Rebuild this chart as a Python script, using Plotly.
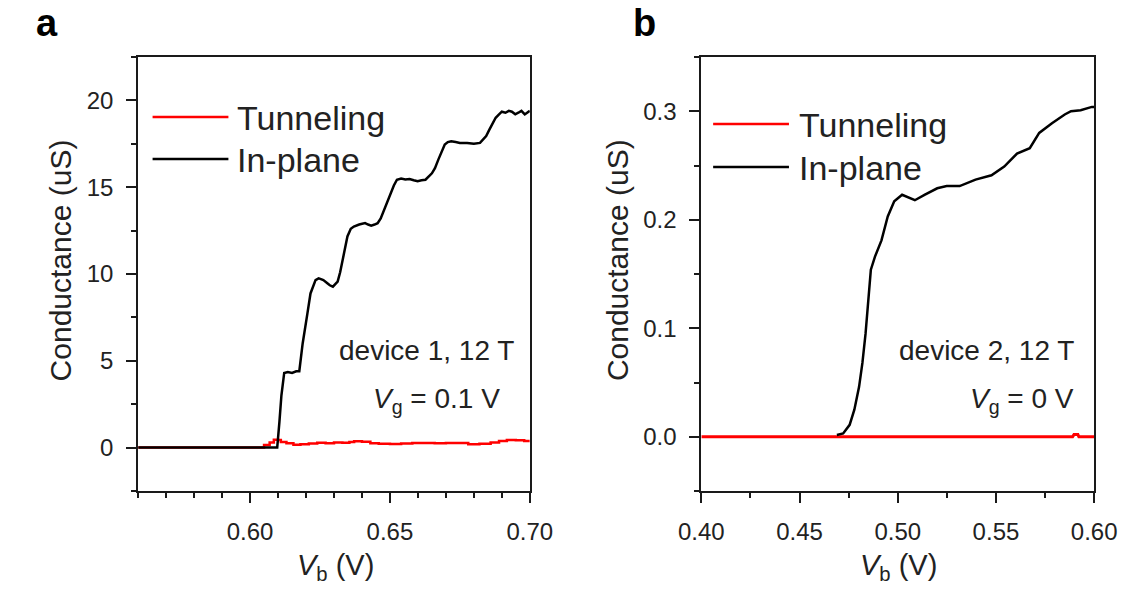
import plotly.graph_objects as go

W, H = 1146, 590

# ---------------- data ----------------
# Panel a: device 1, 12 T, Vg = 0.1 V
a_inplane_vb = [0.5600, 0.6097, 0.6105, 0.6112, 0.6122, 0.6135, 0.6150, 0.6165, 0.6176,
                0.6188, 0.6205, 0.6216, 0.6234, 0.6245, 0.6251, 0.6262, 0.6274, 0.6285,
                0.6296, 0.6313, 0.6322, 0.6331, 0.6340, 0.6348, 0.6360, 0.6371, 0.6390,
                0.6411, 0.6422, 0.6433, 0.6445, 0.6456, 0.6467, 0.6479, 0.6490, 0.6502,
                0.6514, 0.6525, 0.6540, 0.6555, 0.6570, 0.6585, 0.6599, 0.6613, 0.6627,
                0.6650, 0.6661, 0.6673, 0.6685, 0.6696, 0.6707, 0.6719, 0.6735, 0.6750,
                0.6776, 0.6800, 0.6822, 0.6844, 0.6855, 0.6867, 0.6878, 0.6890, 0.6900,
                0.6913, 0.6925, 0.6936, 0.6948, 0.6959, 0.6970, 0.6982, 0.6991, 0.7000]
a_inplane_g = [0.0, 0.0, 1.5, 3.0, 4.3, 4.35, 4.3, 4.4, 4.4,
               6.0, 7.73, 8.88, 9.65, 9.75, 9.72, 9.65, 9.5, 9.35,
               9.27, 9.56, 10.1, 10.8, 11.6, 12.16, 12.6, 12.73, 12.85,
               12.93, 12.85, 12.79, 12.85, 12.93, 13.2, 13.7, 14.2, 14.66,
               15.1, 15.43, 15.5, 15.45, 15.47, 15.4, 15.34, 15.4, 15.43,
               15.8, 16.1, 16.59, 17.0, 17.46, 17.6, 17.65, 17.6, 17.55,
               17.55, 17.5, 17.55, 17.94, 18.3, 18.71, 19.0, 19.19, 19.35,
               19.29, 19.4, 19.35, 19.2, 19.29, 19.4, 19.19, 19.3, 19.4]

a_tunnel_vb = [0.560, 0.603, 0.605, 0.607, 0.6085, 0.610, 0.611, 0.613, 0.6155, 0.618,
               0.621, 0.624, 0.627, 0.630, 0.633, 0.6355, 0.6372, 0.640, 0.643, 0.646,
               0.650, 0.654, 0.658, 0.662, 0.666, 0.670, 0.674, 0.678, 0.682, 0.686,
               0.689, 0.6918, 0.695, 0.698, 0.700]
a_tunnel_g = [0.0, 0.0, 0.15, 0.3, 0.45, 0.44, 0.32, 0.25, 0.16, 0.2,
              0.24, 0.28, 0.25, 0.3, 0.28, 0.32, 0.37, 0.33, 0.25, 0.22,
              0.21, 0.24, 0.27, 0.27, 0.25, 0.27, 0.26, 0.2, 0.22, 0.3,
              0.38, 0.44, 0.42, 0.38, 0.38]

# Panel b: device 2, 12 T, Vg = 0 V
b_inplane_vb = [0.4690, 0.4722, 0.4755, 0.4779, 0.4803, 0.4820, 0.4836, 0.4849, 0.4863,
                0.4884, 0.4917, 0.4949, 0.4982, 0.5022, 0.5047, 0.5087, 0.5136, 0.5201,
                0.5249, 0.5315, 0.5396, 0.5477, 0.5542, 0.5607, 0.5672, 0.5720, 0.5785,
                0.5850, 0.5882, 0.5931, 0.5988, 0.6000]
b_inplane_g = [0.0017, 0.003, 0.011, 0.025, 0.046, 0.068, 0.095, 0.126, 0.154,
               0.166, 0.181, 0.203, 0.217, 0.223, 0.221, 0.218, 0.223, 0.229,
               0.231, 0.231, 0.237, 0.241, 0.249, 0.261, 0.266, 0.280, 0.289,
               0.297, 0.300, 0.301, 0.304, 0.304]

b_tunnel_vb = [0.400, 0.5890, 0.5897, 0.5917, 0.5922, 0.600]
b_tunnel_g = [0.0, 0.0, 0.002, 0.002, 0.0, 0.0]

series_names = ["Tunneling", "In-plane"]
series_colors = ["#ff0000", "#000000"]
panel_labels = ["a", "b"]
notes_a = ["device 1, 12 T", "<i>V</i><sub>g</sub> = 0.1 V"]
notes_b = ["device 2, 12 T", "<i>V</i><sub>g</sub> = 0 V"]
x_title = "<i>V</i><sub>b</sub> (V)"
y_title = "Conductance (uS)"

# ---------------- figure ----------------
FONT = "Liberation Sans, Arial, sans-serif"
AX = "#1a1a1a"
TXT = "#222222"


def px(x):
    return x / W


def py(y):
    return 1 - y / H


fig = go.Figure()

fig.add_trace(go.Scatter(x=a_tunnel_vb, y=a_tunnel_g, mode="lines", name=series_names[0],
                         line=dict(color=series_colors[0], width=2.5, shape="hv"),
                         xaxis="x", yaxis="y", showlegend=False))
fig.add_trace(go.Scatter(x=a_inplane_vb, y=a_inplane_g, mode="lines", name=series_names[1],
                         line=dict(color=series_colors[1], width=2.5),
                         xaxis="x", yaxis="y", showlegend=False))
fig.add_trace(go.Scatter(x=b_tunnel_vb, y=b_tunnel_g, mode="lines", name=series_names[0],
                         line=dict(color=series_colors[0], width=3),
                         xaxis="x2", yaxis="y2", showlegend=False))
fig.add_trace(go.Scatter(x=b_inplane_vb, y=b_inplane_g, mode="lines", name=series_names[1],
                         line=dict(color=series_colors[1], width=2.5),
                         xaxis="x2", yaxis="y2", showlegend=False))

ax_common = dict(showline=True, linewidth=2, linecolor=AX, mirror=True,
                 ticks="outside", ticklen=10, tickwidth=2, tickcolor=AX,
                 showgrid=False, zeroline=False, fixedrange=True,
                 tickfont=dict(family=FONT, size=24, color=TXT))

ydom = [py(491), py(57)]

fig.update_layout(
    width=W, height=H,
    margin=dict(l=0, r=0, t=0, b=0),
    paper_bgcolor="white", plot_bgcolor="white",
    showlegend=False,
    xaxis=dict(domain=[px(120), px(528)], range=[0.56, 0.70], tick0=0.55, dtick=0.05,
               tickformat=".2f", anchor="y", ticklabelstandoff=8,
               minor=dict(ticks="outside", ticklen=5, tickwidth=2, tickcolor=AX,
                          tick0=0.56, dtick=0.01, showgrid=False),
               **ax_common),
    yaxis=dict(domain=ydom, range=[-2.5, 22.5], tick0=0, dtick=5, anchor="x",
               ticklabelstandoff=8,
               minor=dict(ticks="outside", ticklen=5, tickwidth=2, tickcolor=AX,
                          tick0=0, dtick=2.5, showgrid=False),
               **ax_common),
    xaxis2=dict(domain=[px(706.7), px(1116)], range=[0.40, 0.60], tick0=0.40, dtick=0.05,
                tickformat=".2f", anchor="y2", ticklabelstandoff=8,
                minor=dict(ticks="outside", ticklen=5, tickwidth=2, tickcolor=AX,
                           tick0=0.40, dtick=0.025, showgrid=False),
                **ax_common),
    yaxis2=dict(domain=ydom, range=[-0.05, 0.35], tick0=0, dtick=0.1, tickformat=".1f",
                anchor="x2", ticklabelstandoff=8,
                minor=dict(ticks="outside", ticklen=5, tickwidth=2, tickcolor=AX,
                           tick0=0, dtick=0.05, showgrid=False),
                **ax_common),
)

ann = []
shapes = []

# panel labels
ann.append(dict(x=px(11), y=py(46), xref="paper", yref="paper", text="<b>%s</b>" % panel_labels[0],
                showarrow=False, xanchor="left", yanchor="bottom",
                font=dict(family=FONT, size=38, color="#000")))
ann.append(dict(x=px(633), y=py(46), xref="paper", yref="paper", text="<b>%s</b>" % panel_labels[1],
                showarrow=False, xanchor="left", yanchor="bottom",
                font=dict(family=FONT, size=38, color="#000")))

# axis titles
for cx in (326, 912):
    ann.append(dict(x=px(cx), y=py(567), xref="paper", yref="paper", text=x_title,
                    showarrow=False, xanchor="center", yanchor="middle",
                    font=dict(family=FONT, size=29, color=TXT)))
for cx in (40, 620):
    ann.append(dict(x=px(cx), y=py(260), xref="paper", yref="paper", text=y_title,
                    showarrow=False, xanchor="center", yanchor="middle", textangle=-90,
                    font=dict(family=FONT, size=30, color=TXT)))

# legends (drawn manually, long line samples like the original)
legend_geo = [  # (line x0, line x1, text x, y tunneling, y in-plane)
    (135, 214, 221, 117, 159),
    (719, 798, 806, 124, 167),
]
for (lx0, lx1, tx, y1, y2) in legend_geo:
    for name, col, yy in zip(series_names, series_colors, (y1, y2)):
        shapes.append(dict(type="line", xref="paper", yref="paper",
                           x0=px(lx0), x1=px(lx1), y0=py(yy), y1=py(yy),
                           line=dict(color=col, width=2.5)))
        ann.append(dict(x=px(tx), y=py(yy + 1), xref="paper", yref="paper", text=name,
                        showarrow=False, xanchor="left", yanchor="middle",
                        font=dict(family=FONT, size=34, color=TXT)))

# notes
ann.append(dict(x=px(420), y=py(350), xref="paper", yref="paper", text=notes_a[0],
                showarrow=False, xanchor="center", yanchor="middle",
                font=dict(family=FONT, size=28, color=TXT)))
ann.append(dict(x=px(431), y=py(400), xref="paper", yref="paper", text=notes_a[1],
                showarrow=False, xanchor="center", yanchor="middle",
                font=dict(family=FONT, size=28, color=TXT)))
ann.append(dict(x=px(1097), y=py(350), xref="paper", yref="paper", text=notes_b[0],
                showarrow=False, xanchor="right", yanchor="middle",
                font=dict(family=FONT, size=28, color=TXT)))
ann.append(dict(x=px(1097), y=py(400), xref="paper", yref="paper", text=notes_b[1],
                showarrow=False, xanchor="right", yanchor="middle",
                font=dict(family=FONT, size=28, color=TXT)))

fig.update_layout(annotations=ann, shapes=shapes)

fig.write_html("out.html", include_plotlyjs=True, config=dict(displayModeBar=False))
